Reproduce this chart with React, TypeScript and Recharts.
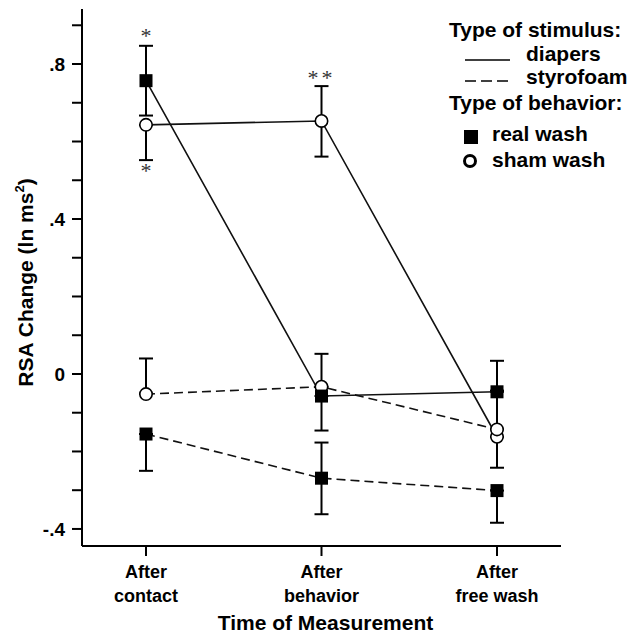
import React from 'react';
import { LineChart, Line, XAxis, YAxis, ErrorBar, ReferenceDot } from 'recharts';

const categories = ['After contact', 'After behavior', 'After free wash'];

// RSA change means, [minus, plus] error lengths (one-sided where the figure hides a side)
const shamDiapers = [0.643, 0.653, -0.162];
const shamDiapersErr = [[0.091, 0], [0.092, 0.09], [0.08, 0]];
const shamStyrofoam = [-0.052, -0.033, -0.143];
const shamStyrofoamErr = [[0, 0.092], [0, 0.085], [0, 0.1]];
const realDiapers = [0.757, -0.057, -0.046];
const realDiapersErr = [[0.09, 0.09], [0.089, 0], [0, 0.08]];
const realStyrofoam = [-0.155, -0.269, -0.301];
const realStyrofoamErr = [[0.095, 0], [0.093, 0.092], [0.083, 0]];

const yTicks = [-0.4, -0.3, -0.2, -0.1, 0, 0.1, 0.2, 0.3, 0.4, 0.5, 0.6, 0.7, 0.8, 0.9];
const yTickLabels: Record<string, string> = { '-4': '-.4', '0': '0', '4': '.4', '8': '.8' };

const stars = [
  { x: 'After contact', y: 0.88, text: '*' },
  { x: 'After contact', y: 0.532, text: '*' },
  { x: 'After behavior', y: 0.772, text: '**' },
];

const FONT = '"Liberation Sans", Arial, Helvetica, sans-serif';

const data = categories.map((time, i) => ({
  time,
  shamDiapers: shamDiapers[i],
  shamDiapersErr: shamDiapersErr[i],
  shamStyrofoam: shamStyrofoam[i],
  shamStyrofoamErr: shamStyrofoamErr[i],
  realDiapers: realDiapers[i],
  realDiapersErr: realDiapersErr[i],
  realStyrofoam: realStyrofoam[i],
  realStyrofoamErr: realStyrofoamErr[i],
}));

const SquareDot = (p: any) => (
  <rect key={`sq-${p.dataKey}-${p.index}`} x={p.cx - 6.5} y={p.cy - 6.5} width={13} height={13} fill="#000" />
);

const CircleDot = (p: any) => (
  <circle key={`ci-${p.dataKey}-${p.index}`} cx={p.cx} cy={p.cy} r={6.2} fill="#fff" stroke="#000" strokeWidth={1.6} />
);

function TimeTick({ x, y, payload }: any) {
  const label = String(payload.value);
  const cut = label.indexOf(' ');
  return (
    <g fontFamily={FONT} fontSize={18} fontWeight="bold" fill="#000">
      <text x={x} y={y + 20} textAnchor="middle">{label.slice(0, cut)}</text>
      <text x={x} y={y + 44} textAnchor="middle">{label.slice(cut + 1)}</text>
    </g>
  );
}

const XTitle = (props: any) => {
  const { x, y, width } = props.viewBox;
  return (
    <text x={x + width / 2 + 4} y={y + 84} textAnchor="middle" fontFamily={FONT} fontSize={21} fontWeight="bold" fill="#000">
      Time of Measurement
    </text>
  );
};

const YTitle = (props: any) => {
  const { y, height } = props.viewBox;
  const cx = 33;
  const cy = y + height / 2 + 5;
  return (
    <text x={cx} y={cy} transform={`rotate(-90 ${cx} ${cy})`} textAnchor="middle" fontFamily={FONT} fontSize={21} fontWeight="bold" fill="#000">
      RSA Change (ln ms
      <tspan fontSize={13} dy={-9}>2</tspan>
      <tspan dy={9}>)</tspan>
    </text>
  );
};

const Star = (text: string) => (p: any) => (
  <text x={p.cx} y={p.cy + 10} textAnchor="middle" fontFamily='"Liberation Serif", "Times New Roman", serif' fontSize={22} fill="#333" letterSpacing={text.length > 1 ? 3 : 0}>
    {text}
  </text>
);

function LegendBox() {
  const t = { fontFamily: FONT, fontSize: 21, fontWeight: 'bold' as const, fill: '#000' };
  return (
    <svg width={633} height={635} style={{ position: 'absolute', left: 0, top: 0, pointerEvents: 'none' }}>
      <text x={449} y={37} {...t}>Type of stimulus:</text>
      <line x1={465} x2={510} y1={60} y2={60} stroke="#000" strokeWidth={1.6} />
      <text x={526} y={61} {...t}>diapers</text>
      <line x1={465} x2={511} y1={81} y2={81} stroke="#000" strokeWidth={1.6} strokeDasharray="11 5" />
      <text x={526} y={84} {...t}>styrofoam</text>
      <text x={449} y={110} {...t}>Type of behavior:</text>
      <rect x={464} y={130} width={14} height={14} fill="#000" />
      <text x={492} y={141} {...t}>real wash</text>
      <circle cx={470} cy={161} r={5.5} fill="#fff" stroke="#000" strokeWidth={3} />
      <text x={492} y={167} {...t}>sham wash</text>
    </svg>
  );
}

export default function App() {
  return (
    <div style={{ position: 'absolute', left: 0, top: 0, width: 633, height: 635, background: '#fff' }}>
      <LineChart width={633} height={635} data={data} margin={{ top: 9, right: 72, bottom: 0, left: 0 }}>
        <XAxis
          dataKey="time"
          height={89}
          padding={{ left: 64, right: 64 }}
          axisLine={{ stroke: '#000', strokeWidth: 2 }}
          tickLine={{ stroke: '#000', strokeWidth: 2 }}
          tickSize={10}
          tickMargin={2}
          tick={<TimeTick />}
          interval={0}
          label={{ content: XTitle }}
        />
        <YAxis
          type="number"
          width={82}
          domain={[-0.444, 0.942]}
          allowDataOverflow
          ticks={yTicks}
          interval={0}
          tickFormatter={(v: number) => yTickLabels[String(Math.round(v * 10))] ?? ''}
          axisLine={{ stroke: '#000', strokeWidth: 2 }}
          tickLine={{ stroke: '#000', strokeWidth: 2 }}
          tickSize={10}
          tickMargin={7}
          tick={{ fontFamily: FONT, fontSize: 19, fontWeight: 'bold', fill: '#000' }}
          label={{ content: YTitle }}
        />
        <Line dataKey="shamDiapers" stroke="#111" strokeWidth={1.6} dot={CircleDot} activeDot={false} isAnimationActive={false}>
          <ErrorBar dataKey="shamDiapersErr" width={7} stroke="#000" strokeWidth={2} direction="y" />
        </Line>
        <Line dataKey="shamStyrofoam" stroke="#111" strokeWidth={1.6} strokeDasharray="9 5" dot={CircleDot} activeDot={false} isAnimationActive={false}>
          <ErrorBar dataKey="shamStyrofoamErr" width={7} stroke="#000" strokeWidth={2} direction="y" />
        </Line>
        <Line dataKey="realDiapers" stroke="#111" strokeWidth={1.6} dot={SquareDot} activeDot={false} isAnimationActive={false}>
          <ErrorBar dataKey="realDiapersErr" width={7} stroke="#000" strokeWidth={2} direction="y" />
        </Line>
        <Line dataKey="realStyrofoam" stroke="#111" strokeWidth={1.6} strokeDasharray="9 5" dot={SquareDot} activeDot={false} isAnimationActive={false}>
          <ErrorBar dataKey="realStyrofoamErr" width={7} stroke="#000" strokeWidth={2} direction="y" />
        </Line>
        {stars.map((s, i) => (
          <ReferenceDot key={`star-${i}`} x={s.x} y={s.y} r={1} shape={Star(s.text)} />
        ))}
      </LineChart>
      <LegendBox />
    </div>
  );
}
